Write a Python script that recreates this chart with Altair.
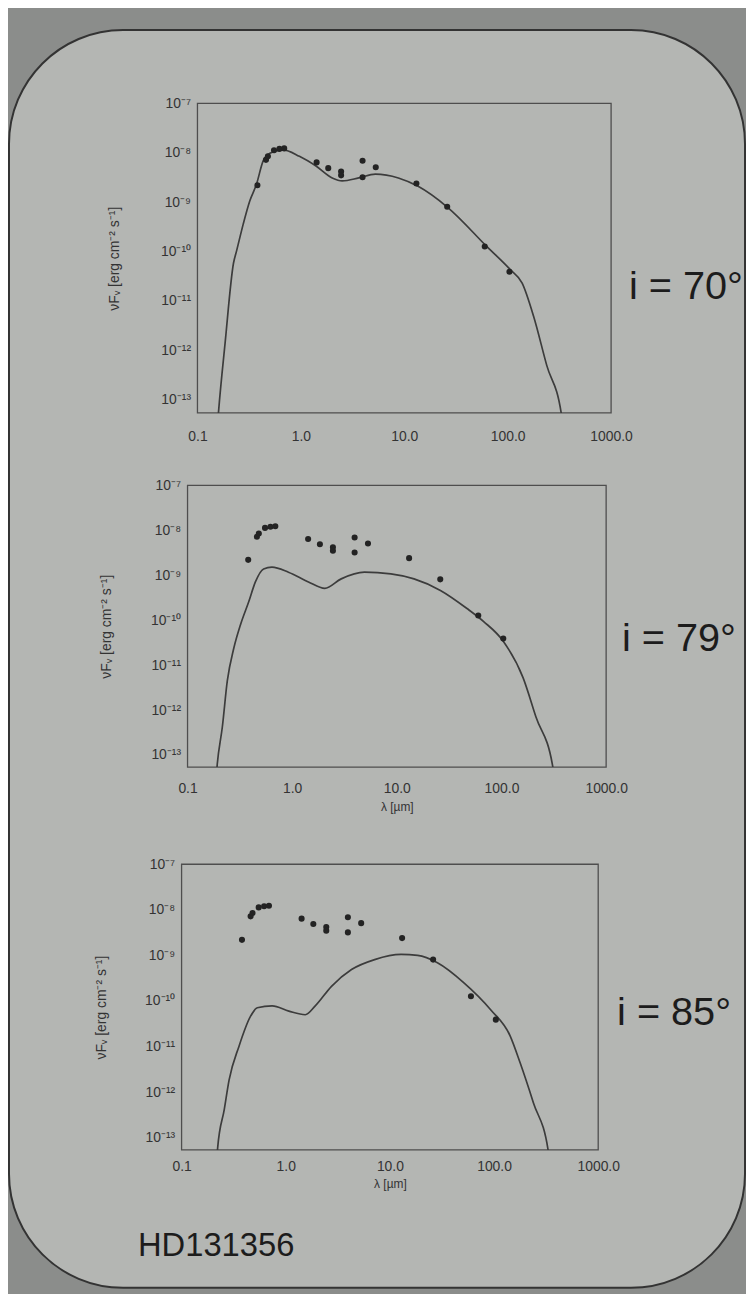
import altair as alt
import pandas as pd

# ---------------- data (wavelength in micron, nuF_nu in erg cm^-2 s^-1) -------------
obs_lam = [0.38, 0.46, 0.48, 0.55, 0.62, 0.69, 1.42, 1.84, 2.45, 2.45,
           3.95, 3.95, 5.3, 13.1, 26.0, 60.0, 104.0]
obs_flux = [2.2e-9, 7.2e-9, 8.5e-9, 1.13e-8, 1.2e-8, 1.23e-8, 6.4e-9, 4.9e-9,
            4.2e-9, 3.5e-9, 6.9e-9, 3.2e-9, 5.1e-9, 2.4e-9, 8.1e-10, 1.27e-10, 3.9e-11]

model70_lam = [0.155, 0.160, 0.185, 0.223, 0.240, 0.277, 0.321, 0.372, 0.431, 0.501,
               0.670, 0.968, 1.40, 2.01, 2.51, 3.63, 5.25, 8.77, 13.6, 26.4,
               63.7, 106.0, 138.0, 178.0, 239.0, 331.0, 350.0]
model70_flux = [2.5e-14, 5.8e-14, 1.4e-12, 5.8e-11, 1.07e-10, 3.6e-10, 1.07e-9, 2.3e-9, 6.8e-9, 9.8e-9,
                1.15e-8, 8.5e-9, 5.4e-9, 3.1e-9, 2.7e-9, 3.1e-9, 3.7e-9, 3.1e-9, 2.1e-9, 7.8e-10,
                1.23e-10, 4.3e-11, 2.3e-11, 4.9e-12, 4.9e-13, 5.0e-14, 2.0e-14]

model79_lam = [0.185, 0.192, 0.215, 0.240, 0.277, 0.320, 0.385, 0.445, 0.533, 0.640,
               0.920, 1.43, 2.05, 2.94, 4.90, 8.77, 14.6, 26.1, 46.8, 67.6,
               104.0, 161.0, 214.0, 309.0, 330.0]
model79_flux = [2.0e-14, 6.0e-14, 4.2e-13, 4.5e-12, 2.4e-11, 7.8e-11, 2.6e-10, 7.1e-10, 1.38e-9, 1.51e-9,
                1.17e-9, 7.1e-10, 5.1e-10, 8.3e-10, 1.17e-9, 1.07e-9, 8.3e-10, 4.6e-10, 1.82e-10, 9.3e-11,
                3.4e-11, 5.2e-12, 6.9e-13, 5.5e-14, 2.0e-14]

model85_lam = [0.215, 0.222, 0.257, 0.286, 0.356, 0.461, 0.533, 0.741, 1.07, 1.54,
               1.92, 2.75, 4.28, 7.14, 12.8, 18.5, 28.6, 51.4, 92.3, 143.0,
               178.0, 239.0, 332.0, 350.0]
model85_flux = [2.0e-14, 6.0e-14, 4.2e-13, 1.86e-12, 1.02e-11, 4.7e-11, 7.1e-11, 7.8e-11, 6.0e-11, 5.0e-11,
                7.8e-11, 2.1e-10, 4.9e-10, 8.1e-10, 1.05e-9, 1.0e-9, 6.9e-10, 2.5e-10, 6.5e-11, 1.7e-11,
                4.4e-12, 5.8e-13, 5.0e-14, 2.0e-14]

incl_labels = ["i = 70°", "i = 79°", "i = 85°"]
star_name = "HD131356"
x_title = "λ [µm]"
y_title = "νFᵥ [erg cm⁻² s⁻¹]"

x_ticks = [0.1, 1.0, 10.0, 100.0, 1000.0]
y_ticks = [1e-13, 1e-12, 1e-11, 1e-10, 1e-9, 1e-8, 1e-7]
y_tick_exps = [-13, -12, -11, -10, -9, -8, -7]
y_tick_labels = ["10⁻¹³", "10⁻¹²", "10⁻¹¹", "10⁻¹⁰", "10⁻⁹", "10⁻⁸", "10⁻⁷"]

x_domain = [0.1, 1000.0]
y_domain = [5.4e-14, 1e-7]

# ---------------- styling ----------------
CELL_W = 433
OUTER = "#8b8d8b"
PANEL = "#b4b6b3"
INK = "#232323"
LINE = "#3c3c3c"
FONT = "Liberation Sans"

y_label_expr = ""
for e, lab in zip(y_tick_exps, y_tick_labels):
    y_label_expr += f"round(log(datum.value)/LN10) == {e} ? '{lab}' : "
y_label_expr += "''"

one_row = pd.DataFrame({"k": [0]})
obs_df = pd.DataFrame({"lam": obs_lam, "flux": obs_flux})


def panel(lam, flux, label, label_x, label_y, cell_h, fx0, fx1, fy0, fy1,
          xlab_pad, xtitle, xtitle_y, ytitle_x, before=None, after=None):
    xaxis = alt.Axis(values=x_ticks, labelExpr="format(datum.value, '.1f')",
                     title=xtitle, labelPadding=xlab_pad, titleY=xtitle_y,
                     titleX=(fx0 + fx1) / 2,
                     zindex=1, labelFlush=False, labelOverlap=False)
    yaxis = alt.Axis(values=y_ticks, labelExpr=y_label_expr, offset=-fx0,
                     title=y_title, titleX=ytitle_x, titleY=(fy0 + fy1) / 2,
                     titleFontSize=14,
                     labelPadding=7, zindex=1, labelOverlap=False)
    xenc = alt.X("lam:Q", axis=xaxis,
                 scale=alt.Scale(type="log", domain=x_domain, nice=False, range=[fx0, fx1]))
    yenc = alt.Y("flux:Q", axis=yaxis,
                 scale=alt.Scale(type="log", domain=y_domain, nice=False, range=[fy1, fy0]))

    model_df = pd.DataFrame({"lam": lam, "flux": flux})
    line = alt.Chart(model_df).mark_line(
        clip=True, color=LINE, strokeWidth=1.7, interpolate="monotone"
    ).encode(x=xenc, y=yenc)
    pts = alt.Chart(obs_df).mark_circle(size=38, color=INK, opacity=1).encode(x=xenc, y=yenc)

    frame = alt.Chart(one_row).mark_rect(
        fillOpacity=0, stroke="#4e4e4e", strokeWidth=1.3
    ).encode(x=alt.value(fx0), x2=alt.value(fx1), y=alt.value(fy0), y2=alt.value(fy1))

    lab = alt.Chart(one_row).mark_text(
        align="left", baseline="middle", fontSize=40, font=FONT, color="#1c1c1c"
    ).encode(x=alt.value(label_x), y=alt.value(label_y), text=alt.value(label))

    layers = list(before or []) + [frame, line, pts, lab] + list(after or [])
    return alt.layer(*layers).properties(width=CELL_W, height=cell_h)


# decorative rounded slide panel behind everything (drawn in first panel)
slide = alt.Chart(one_row).mark_rect(
    fill=PANEL, stroke="#333333", strokeWidth=2, cornerRadius=115
).encode(x=alt.value(-174), x2=alt.value(568), y=alt.value(-74), y2=alt.value(1194))

name_text = alt.Chart(one_row).mark_text(
    align="left", baseline="middle", fontSize=33, font=FONT, color="#1c1c1c"
).encode(x=alt.value(-44), y=alt.value(410), text=alt.value(star_name))

p1 = panel(model70_lam, model70_flux, incl_labels[0], 451, 185, 312,
           16, 433, 0, 312, 17, None, 30, -77, before=[slide])
p2 = panel(model79_lam, model79_flux, incl_labels[1], 444, 155, 284,
           6, 428, 0, 284, 15, x_title, 35, -75)
p3 = panel(model85_lam, model85_flux, incl_labels[2], 439, 175, 313,
           0, 420, 25, 313, 10, x_title, 29, -74, after=[name_text])

chart = alt.vconcat(p1, p2, p3, spacing=73, bounds="flush").properties(
    padding={"top": 16, "left": 0, "right": 0, "bottom": 0},
    background=OUTER,
).configure_view(stroke=None).configure_axis(
    grid=False, domain=False, ticks=False,
    labelFont=FONT, labelFontSize=14, labelColor="#333333",
    titleFont=FONT, titleFontSize=12, titleFontWeight="normal", titleColor="#333333",
)

chart.save("out.html", embed_options={"renderer": "svg", "actions": False})
